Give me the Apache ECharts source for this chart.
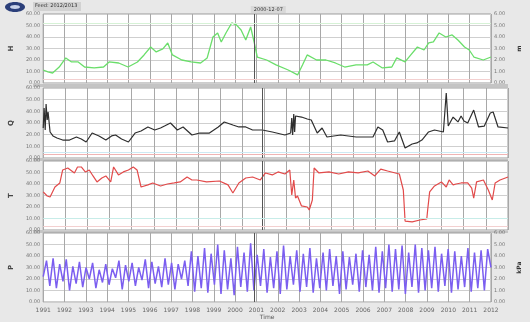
<!DOCTYPE html>
<html>
<head>
<meta charset="utf-8">
<script src="https://cdn.jsdelivr.net/npm/echarts@6/dist/echarts.min.js"></script>
<style>
  html, body { margin: 0; padding: 0; background: #e8e8e8; }
  #chart { width: 530px; height: 322px; }
</style>
</head>
<body>
<div id="chart"></div>
<script>
// Time axis tick labels (one per grid column)
const tickLabels = ['1991','1992','1993','1994','1995','1996','1997','1998','1999','2000','2001',
                    '2002','2003','2004','2005','2006','2007','2008','2009','2010','2011','2012'];
const cursorTime = 99.0;
const cursorLabel = '2000-12-07';

// Panel 1: level (green)
const levelX = [0,2.2,4.4,7.5,10.6,13.3,16.4,19.4,23.9,28.3,30.9,35.4,39.8,44.2,47.3,50.4,53.0,56.1,58.4,60.6,
  65.0,69.4,73.8,76.9,79.6,81.8,83.5,85.7,88.4,90.6,92.8,95.0,97.3,99.0,100.4,104.8,109.2,114.9,119.3,121.6,
  123.8,128.2,132.6,137.0,141.4,146.7,152.0,154.7,159.1,163.5,165.8,169.7,172.4,175.5,178.6,180.8,183.0,185.7,
  188.8,191.8,194.5,197.6,199.8,202.0,206.4,210];
const levelY = [11.3,9.6,8.7,13.9,21.8,18.3,18.3,13.9,13.1,13.9,18.3,17.4,13.9,18.3,24.4,31.3,27.0,29.6,34.8,24.4,
  20.0,18.3,17.4,21.8,40.0,43.5,35.7,43.5,52.2,50.5,46.1,37.4,48.7,34.8,22.6,20.0,15.7,11.3,7.0,15.7,
  24.4,20.0,20.0,17.4,13.9,15.7,15.7,18.3,13.1,13.9,21.8,18.3,24.4,31.3,28.7,34.8,35.7,43.5,
  40.0,41.8,37.4,31.3,28.7,22.6,20.0,22.6];

// Panel 2: discharge (black)
const flowX = [0,0.4,0.9,1.3,1.8,2.2,3.1,4.4,6.2,8.8,11.9,15.0,17.2,19.4,22.1,25.2,28.3,30.9,32.7,35.4,38.5,41.5,
  44.2,47.3,50.4,53.0,54.8,57.5,60.6,63.2,67.2,70.7,75.1,79.1,81.8,85.7,88.4,91.5,94.6,99.0,103.5,109.2,111.8,
  112.3,112.7,113.2,113.6,114.0,114.9,116.7,119.3,121.1,123.8,126.0,128.2,134.4,141.4,149.0,151.2,153.4,155.6,
  158.7,160.9,162.2,163.5,166.7,168.8,171.1,174.1,176.8,180.8,181.7,182.1,183.0,185.2,187.4,188.8,190.1,191.8,
  194.5,196.7,199.3,202.0,203.3,205.5,210];
const flowY = [25.7,42.9,24.0,46.3,32.6,39.4,22.3,18.9,17.1,15.4,15.4,18.0,16.3,13.7,21.4,18.9,15.4,18.9,19.7,16.3,
  13.7,21.4,23.1,26.6,24.0,25.7,27.4,30.0,24.0,26.6,19.7,21.4,21.4,26.6,30.9,28.3,26.6,26.6,24.0,24.0,22.3,19.7,
  21.4,34.3,19.7,37.7,22.3,36.0,34.3,35.1,33.4,32.6,21.4,25.7,18.0,19.7,18.0,18.0,26.6,24.0,13.7,14.6,22.3,15.4,
  8.6,12.0,12.9,15.4,22.3,24.0,22.3,24.0,55.7,27.4,35.1,30.9,36.0,31.7,30.0,41.1,26.6,27.4,38.6,39.4,26.6,25.7];

// Panel 3: temperature (red)
const tempX = [0,1.8,3.1,5.3,7.5,8.8,11.1,14.1,15.5,17.2,19.0,20.8,22.5,24.3,26.5,28.3,30.5,31.8,34.0,36.2,38.5,
  40.7,42.4,44.2,47.3,49.5,53.0,56.1,59.2,61.9,65.0,67.2,69.4,73.8,79.6,83.5,85.7,88.4,91.5,94.6,98.1,100.4,103.5,
  106.1,109.2,111.4,112.3,113.2,114.0,114.9,116.7,119.3,120.2,121.6,122.4,124.6,129.1,133.5,137.9,142.3,146.7,
  149.8,152.5,155.6,159.1,160.9,162.7,163.5,166.7,170.2,173.3,173.7,174.6,176.8,179.9,182.1,183.4,185.2,186.5,
  188.8,191.8,193.6,194.5,195.8,198.9,201.1,202.9,204.2,206.4,210];
const tempY = [33.1,29.6,28.7,37.4,40.9,52.2,53.9,49.6,54.8,54.8,50.5,52.2,47.0,41.8,45.2,47.0,41.8,54.8,47.9,50.5,
  52.2,54.8,52.2,37.4,39.2,40.9,38.3,40.0,40.9,41.8,46.1,43.5,43.5,41.8,42.6,39.2,32.2,40.9,45.2,46.1,43.5,49.6,
  47.9,50.5,48.7,52.2,30.5,43.5,27.8,29.6,20.9,20.0,17.4,26.1,53.9,49.6,50.5,48.7,50.5,49.6,51.3,47.0,53.0,51.3,
  49.6,48.7,34.8,7.8,7.0,8.7,9.6,17.4,33.1,38.3,41.8,37.4,43.5,39.2,40.0,40.9,40.9,36.5,27.8,41.8,43.5,34.8,26.1,
  40.9,43.5,46.1];

// Panel 4: tide / pressure signal (blue), regular sampling
const tideStep = 210 / 136;
const tideY = [22,36,14,38,12,33,18,37,10,31,16,35,13,30,20,34,12,28,17,33,15,29,21,36,11,32,18,34,14,30,
  19,37,12,35,16,31,13,38,15,34,11,33,20,36,14,
  44,9,40,12,47,8,42,15,50,7,45,11,38,6,48,13,43,9,51,10,41,14,46,8,39,12,44,7,49,11,
  40,15,45,9,42,13,47,8,38,12,43,10,46,14,40,7,44,11,39,15,42,9,45,13,41,10,48,8,44,12,
  50,9,46,11,49,7,43,13,50,8,47,10,45,12,48,9,42,14,46,8,44,11,40,13,47,9,43,12,45,10,46,30];

const leftNames = ['H', 'Q', 'T', 'P'];
const rightNames = ['m', '', '', 'kPa'];

const zip = (xs, ys) => xs.map((x, i) => [x, ys[i]]);
const tideData = tideY.map((v, i) => [i * tideStep, v]);

const gridTops = [14, 88, 161, 233];
const gridHeights = [69, 70, 69, 69];
const font = 'DejaVu Sans';

const grids = gridTops.map((t, i) => ({
  left: 33, width: 475, top: t, height: gridHeights[i],
  show: true, backgroundColor: '#ffffff', borderColor: '#9a9a9a', borderWidth: 1
}));

const xAxes = gridTops.map((t, i) => ({
  type: 'value', gridIndex: i, min: 0, max: 210, interval: 10,
  axisLine: { show: false }, axisTick: { show: false },
  splitLine: { show: true, lineStyle: { color: '#a8a8a8', width: 1 } },
  axisLabel: {
    show: i === 3, fontSize: 6, color: '#666', fontFamily: font, margin: 5,
    formatter: v => tickLabels[Math.round(v / 10)] || ''
  },
  name: i === 3 ? 'Time' : '', nameLocation: 'middle', nameGap: 12,
  nameTextStyle: { fontSize: 6, color: '#555', fontFamily: font }
}));

const yAxes = [];
gridTops.forEach((t, i) => {
  yAxes.push({
    type: 'value', gridIndex: i, position: 'left', min: 0, max: 60, interval: 10,
    axisLine: { show: false }, axisTick: { show: false },
    splitLine: { show: true, lineStyle: { color: '#cfcfcf', width: 1 } },
    axisLabel: { fontSize: 5, color: '#777', fontFamily: font, margin: 3,
                 formatter: v => v.toFixed(2) },
    name: leftNames[i], nameLocation: 'middle', nameRotate: 90, nameGap: 19,
    nameTextStyle: { fontSize: 7, fontWeight: 'bold', color: '#444', fontFamily: font }
  });
});
[0, 3].forEach(i => {
  yAxes.push({
    type: 'value', gridIndex: i, position: 'right', min: 0, max: 6, interval: 1,
    axisLine: { show: false }, axisTick: { show: false }, splitLine: { show: false },
    axisLabel: { fontSize: 5, color: '#777', fontFamily: font, margin: 3,
                 formatter: v => v.toFixed(2) },
    name: rightNames[i], nameLocation: 'middle', nameRotate: 90, nameGap: 16,
    nameTextStyle: { fontSize: 6, fontWeight: 'bold', color: '#333', fontFamily: font }
  });
});

// Vertical time cursor shown across all panels
const cursor = (withLabel) => ({
  silent: true, symbol: 'none',
  lineStyle: { color: '#555', width: 1, type: 'solid' },
  label: withLabel ? {
    show: true, position: 'end', formatter: cursorLabel, fontSize: 5, color: '#333',
    fontFamily: font, backgroundColor: '#d8d8d8', padding: [1, 3], distance: 1, offset: [14, 0]
  } : { show: false },
  data: [{ xAxis: cursorTime }]
});

const limitLine = (value, color) => ({
  silent: true, symbol: 'none', label: { show: false },
  lineStyle: { color: color, width: 1, type: 'solid' },
  data: [{ yAxis: value }]
});

const seriesDefs = [
  { data: zip(levelX, levelY), color: '#6ade6a', width: 1.3, grid: 0, limits: [[52, '#d6f2d6'], [3, '#f3d0d0']] },
  { data: zip(flowX, flowY), color: '#2e2e2e', width: 1.2, grid: 1, limits: [[3, '#f0b4b4'], [5, '#cde9f3']] },
  { data: zip(tempX, tempY), color: '#e24a4a', width: 1.2, grid: 2, limits: [[10, '#c7ece8'], [3, '#f3d0d0']] },
  { data: tideData, color: '#7b5ef0', width: 1.5, grid: 3, limits: [] }
];

const series = [];
seriesDefs.forEach((s, i) => {
  series.push({
    type: 'line', xAxisIndex: s.grid, yAxisIndex: s.grid, data: s.data,
    showSymbol: false, symbol: 'none', animation: false,
    lineStyle: { color: s.color, width: s.width },
    markLine: cursor(i === 0)
  });
  s.limits.forEach(l => {
    series.push({
      type: 'line', xAxisIndex: s.grid, yAxisIndex: s.grid, data: [],
      markLine: limitLine(l[0], l[1]), animation: false
    });
  });
});

const chart = echarts.init(document.getElementById('chart'), null, { renderer: 'canvas' });
chart.setOption({
  backgroundColor: '#e8e8e8',
  animation: false,
  grid: grids,
  xAxis: xAxes,
  yAxis: yAxes,
  series: series,
  graphic: [
    // separator bands between the stacked panels
    { type: 'rect', z: -1, shape: { x: 33, y: 84, width: 475, height: 3 }, style: { fill: '#c4c4c4' } },
    { type: 'rect', z: -1, shape: { x: 33, y: 158, width: 475, height: 3 }, style: { fill: '#c4c4c4' } },
    { type: 'rect', z: -1, shape: { x: 33, y: 230, width: 475, height: 3 }, style: { fill: '#c4c4c4' } },
    // logo badge
    { type: 'ellipse', shape: { cx: 15, cy: 7, rx: 10, ry: 5 }, style: { fill: '#2b3f7a' } },
    { type: 'ellipse', shape: { cx: 15, cy: 7, rx: 5, ry: 2 }, style: { fill: '#c9d3ea' } },
    // title tab
    { type: 'rect', shape: { x: 33, y: 2, width: 48, height: 9 }, style: { fill: '#d2d2d2' } },
    { type: 'text', left: 35, top: 3, style: { text: 'Feed: 2012/2013', fontSize: 5, fill: '#333', fontFamily: font } }
  ]
});
</script>
</body>
</html>
